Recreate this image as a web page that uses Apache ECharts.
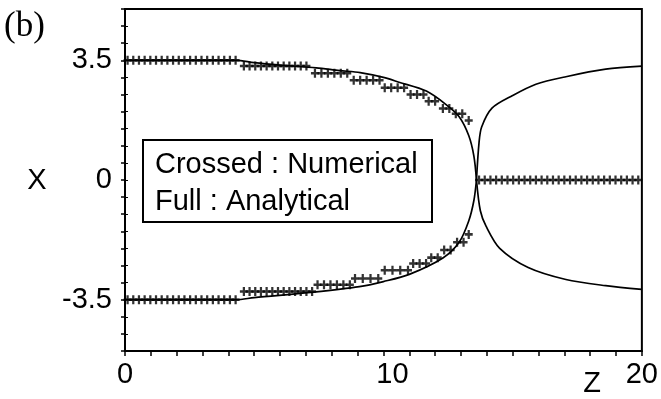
<!DOCTYPE html>
<html>
<head>
<meta charset="utf-8">
<script src="https://cdn.jsdelivr.net/npm/echarts@6/dist/echarts.min.js"></script>
<style>
html,body{margin:0;padding:0;background:#fff;}
#c{width:661px;height:399px;}
</style>
</head>
<body>
<div id="c"></div>
<script>
// Analytical curves [z, X]
const anaUpperLeft = [[0,3.5],[4.3,3.5],[5,3.43],[6,3.36],[7.4,3.28],[8.3,3.2],[9.1,3.14],[10.0,3.0],[10.6,2.86],[11.66,2.6],[12.4,2.22],[12.93,1.85],[13.3,1.3],[13.5,0.7],[13.6,0]];
const anaLowerLeft = [[0,-3.5],[4.3,-3.5],[5,-3.44],[7.3,-3.28],[9.07,-3.12],[10.0,-2.97],[11.0,-2.76],[12.3,-2.28],[12.93,-1.82],[13.3,-1.2],[13.5,-0.6],[13.6,0]];
const anaUpperRight = [[13.6,0],[13.7,1.1],[13.8,1.55],[14.2,2.1],[15.0,2.47],[15.9,2.8],[17.06,3.02],[18.6,3.24],[20,3.33]];
const anaLowerRight = [[13.6,0],[13.75,-0.9],[13.97,-1.35],[14.5,-2.0],[15.6,-2.56],[17.06,-2.91],[18.6,-3.09],[20,-3.2]];

// Numerical points [z, X]
const numUpper = [
 [0.1,3.5],[0.32,3.5],[0.54,3.5],[0.76,3.5],[0.98,3.5],[1.2,3.5],[1.42,3.5],[1.64,3.5],[1.86,3.5],[2.08,3.5],
 [2.3,3.5],[2.52,3.5],[2.74,3.5],[2.96,3.5],[3.18,3.5],[3.4,3.5],[3.62,3.5],[3.84,3.5],[4.06,3.5],[4.28,3.5],
 [4.6,3.33],[4.82,3.33],[5.04,3.33],[5.26,3.33],[5.48,3.33],[5.7,3.33],[5.92,3.33],[6.14,3.33],[6.36,3.33],[6.58,3.33],[6.8,3.33],[7.02,3.33],
 [7.35,3.12],[7.6,3.12],[7.85,3.12],[8.1,3.12],[8.35,3.12],[8.6,3.12],
 [8.85,2.92],[9.1,2.92],[9.35,2.92],[9.6,2.92],[9.85,2.92],
 [10.05,2.7],[10.3,2.7],[10.55,2.7],[10.8,2.7],
 [11.05,2.5],[11.3,2.5],[11.55,2.5],
 [11.75,2.3],[12.0,2.3],
 [12.3,2.09],[12.55,2.09],
 [12.8,1.94],[13.05,1.94],
 [13.3,1.74]
];
const numLower = [
 [0.1,-3.5],[0.32,-3.5],[0.54,-3.5],[0.76,-3.5],[0.98,-3.5],[1.2,-3.5],[1.42,-3.5],[1.64,-3.5],[1.86,-3.5],[2.08,-3.5],
 [2.3,-3.5],[2.52,-3.5],[2.74,-3.5],[2.96,-3.5],[3.18,-3.5],[3.4,-3.5],[3.62,-3.5],[3.84,-3.5],[4.06,-3.5],[4.28,-3.5],
 [4.6,-3.26],[4.82,-3.26],[5.04,-3.26],[5.26,-3.26],[5.48,-3.26],[5.7,-3.26],[5.92,-3.26],[6.14,-3.26],[6.36,-3.26],[6.58,-3.26],[6.8,-3.26],[7.02,-3.26],[7.24,-3.26],
 [7.45,-3.06],[7.7,-3.06],[7.95,-3.06],[8.2,-3.06],[8.45,-3.06],[8.7,-3.06],
 [8.9,-2.88],[9.2,-2.88],[9.5,-2.88],[9.8,-2.88],
 [10.05,-2.64],[10.35,-2.64],[10.65,-2.64],[10.95,-2.64],
 [11.15,-2.44],[11.4,-2.44],[11.65,-2.44],
 [11.85,-2.27],[12.1,-2.27],
 [12.35,-2.05],[12.6,-2.05],
 [12.85,-1.82],[13.1,-1.82],
 [13.3,-1.59]
];
const numCenter = [
 [13.7,0],[13.92,0],[14.14,0],[14.36,0],[14.58,0],[14.8,0],[15.02,0],[15.24,0],[15.46,0],[15.68,0],
 [15.9,0],[16.12,0],[16.34,0],[16.56,0],[16.78,0],[17.0,0],[17.22,0],[17.44,0],[17.66,0],[17.88,0],
 [18.1,0],[18.32,0],[18.54,0],[18.76,0],[18.98,0],[19.2,0],[19.42,0],[19.64,0],[19.86,0]
];

// Tick labels
const xTickLabels = [0, 10, 20];
const yTickLabels = [-3.5, 0, 3.5];

const FONT = '"Liberation Sans", Arial, sans-serif';
const plusPath = 'path://M3.6,0H6.4V3.6H10V6.4H6.4V10H3.6V6.4H0V3.6H3.6Z';

const lineStyle = {color:'#000', width:1.7};
function lineSeries(d){
  return {type:'line', data:d, showSymbol:false, smooth:0.3, lineStyle:lineStyle, z:3};
}
function numSeries(d){
  return {type:'scatter', data:d, symbol:plusPath, symbolSize:[8,9], itemStyle:{color:'#000'}, z:4};
}

const chart = echarts.init(document.getElementById('c'));
chart.setOption({
  animation:false,
  backgroundColor:'#fff',
  grid:{left:125, right:18, top:9, bottom:48, show:true, borderColor:'#000', borderWidth:2},
  xAxis:{
    type:'value', min:0, max:20, interval:1,
    axisLine:{show:true, onZero:false, lineStyle:{color:'#000', width:2}},
    axisTick:{show:true, inside:false, length:5, lineStyle:{color:'#000', width:1.5}},
    splitLine:{show:false},
    axisLabel:{
      margin:9, color:'#000', fontFamily:FONT, fontSize:29,
      formatter:function(v){
        if (v===10) return '{t|10}';
        return xTickLabels.indexOf(v)>=0 ? String(v) : '';
      },
      rich:{t:{fontFamily:FONT, fontSize:29, color:'#000', padding:[0,0,0,18]}}
    }
  },
  yAxis:[{
    type:'value', min:-5, max:5, interval:0.5,
    axisLine:{show:true, onZero:false, lineStyle:{color:'#000', width:2}},
    axisTick:{show:true, inside:false, length:4, lineStyle:{color:'#000', width:1.5}},
    splitLine:{show:false},
    axisLabel:{
      margin:13, color:'#000', fontFamily:FONT, fontSize:29,
      formatter:function(v){ return yTickLabels.indexOf(v)>=0 ? String(v) : ''; }
    }
  },{
    type:'value', min:-5, max:5, interval:0.5, position:'right',
    axisLine:{show:true, lineStyle:{color:'#000', width:2}},
    axisTick:{show:true, inside:false, length:3, lineStyle:{color:'#000', width:1}},
    axisLabel:{show:false}, splitLine:{show:false}
  }],
  series:[
    lineSeries(anaUpperLeft), lineSeries(anaLowerLeft),
    lineSeries(anaUpperRight), lineSeries(anaLowerRight),
    numSeries(numUpper), numSeries(numLower), numSeries(numCenter)
  ],
  graphic:[
    {type:'rect', shape:{x:143, y:140, width:289, height:82}, style:{fill:'#fff', stroke:'#000', lineWidth:2}, z:10},
    {type:'text', x:155, y:165, style:{text:'Crossed : Numerical', font:'29px '+FONT, fill:'#000', align:'left', verticalAlign:'middle'}, z:11},
    {type:'text', x:155, y:202, style:{text:'Full : Analytical', font:'29px '+FONT, fill:'#000', align:'left', verticalAlign:'middle'}, z:11},
    {type:'text', x:37, y:181, style:{text:'X', font:'29px '+FONT, fill:'#000', align:'center', verticalAlign:'middle'}},
    {type:'text', x:592, y:384, style:{text:'Z', font:'29px '+FONT, fill:'#000', align:'center', verticalAlign:'middle'}},
    {type:'text', x:4, y:27, style:{text:'(b)', font:'35px "Liberation Serif", "Times New Roman", serif', fill:'#000', align:'left', verticalAlign:'middle'}}
  ]
});
</script>
</body>
</html>
